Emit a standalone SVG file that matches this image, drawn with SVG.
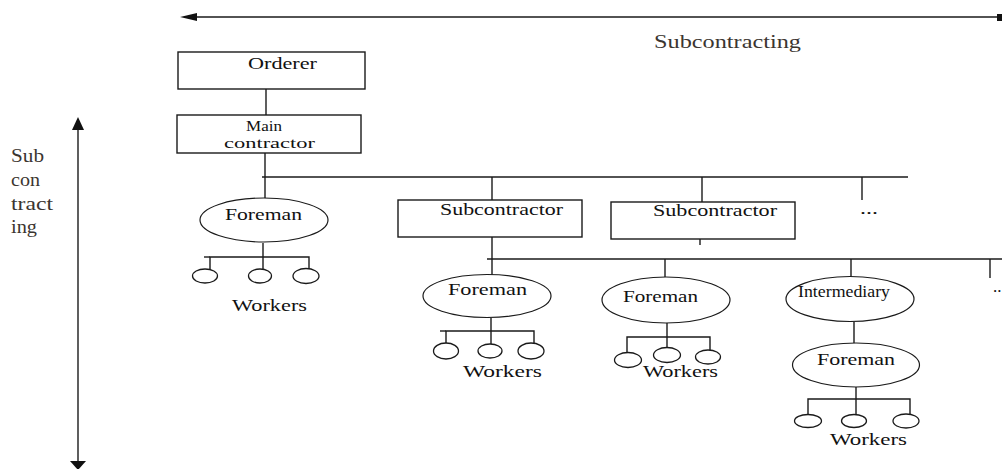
<svg xmlns="http://www.w3.org/2000/svg" width="1002" height="469" viewBox="0 0 1002 469">
<style>
.ln{stroke:#1a1a1a;stroke-width:1.4;fill:none}
.bx{stroke:#1a1a1a;stroke-width:1.4;fill:#fff}
.el{stroke:#1a1a1a;stroke-width:1.2;fill:#fff}
.wk{stroke:#1a1a1a;stroke-width:1.3;fill:#fff}
.hd{fill:#111;stroke:none}
.t{font-family:'Liberation Serif','DejaVu Serif',serif;font-size:17px;fill:#111}
.sm{font-size:15px}
.lb{fill:#3b3530;font-size:18px}
</style>
<rect width="1002" height="469" fill="#fff"/>
<g id="connectors">
<line class="ln" x1="190" y1="17" x2="998" y2="17"/>
<polygon class="hd" points="180,17 197,13 197,21"/>
<rect class="hd" x="997" y="14" width="5" height="7"/>
<line class="ln" x1="78" y1="126" x2="78" y2="462"/>
<polygon class="hd" points="78,117 72,130 84,130"/>
<polygon class="hd" points="70,461 86,461 78,470"/>
<line class="ln" x1="266" y1="89" x2="266" y2="115"/>
<line class="ln" x1="265" y1="153" x2="265" y2="199"/>
<line class="ln" x1="262" y1="177" x2="908" y2="177"/>
<line class="ln" x1="492" y1="177" x2="492" y2="200"/>
<line class="ln" x1="702" y1="177" x2="702" y2="202"/>
<line class="ln" x1="862" y1="177" x2="862" y2="200"/>
<line class="ln" x1="700" y1="239" x2="700" y2="245"/>
<line class="ln" x1="492" y1="237" x2="492" y2="275"/>
<line class="ln" x1="487" y1="259" x2="1002" y2="259"/>
<line class="ln" x1="665" y1="259" x2="665" y2="277"/>
<line class="ln" x1="851" y1="259" x2="851" y2="277"/>
<line class="ln" x1="990" y1="259" x2="990" y2="278"/>
<line class="ln" x1="854" y1="322" x2="854" y2="343"/>
<line class="ln" x1="263" y1="243" x2="263" y2="269"/>
<polyline class="ln" points="210,269 210,257 309,257 309,269"/>
<line class="ln" x1="204" y1="257" x2="210" y2="257"/>
<line class="ln" x1="491" y1="318" x2="491" y2="344"/>
<polyline class="ln" points="446,344 446,331 534,331 534,344"/>
<line class="ln" x1="440" y1="331" x2="446" y2="331"/>
<line class="ln" x1="667" y1="323" x2="667" y2="348"/>
<polyline class="ln" points="627,353 627,337 710,337 710,350"/>
<line class="ln" x1="856" y1="387" x2="856" y2="414"/>
<polyline class="ln" points="808,414 808,399 910,399 910,414"/>
</g>
<g id="orderer">
<rect class="bx" x="178" y="52" width="187" height="37"/>
<text class="t" x="248" y="69" textLength="69" lengthAdjust="spacingAndGlyphs">Orderer</text>
</g>
<g id="main-contractor">
<rect class="bx" x="177" y="115" width="184" height="38"/>
<text class="t sm" x="246" y="131" textLength="36" lengthAdjust="spacingAndGlyphs">Main</text>
<text class="t sm" x="224" y="148" textLength="91" lengthAdjust="spacingAndGlyphs">contractor</text>
</g>
<g id="foreman-1">
<ellipse class="el" cx="264" cy="220" rx="64" ry="22"/>
<text class="t" x="225" y="220" textLength="77" lengthAdjust="spacingAndGlyphs">Foreman</text>
</g>
<g id="workers-1">
<ellipse class="wk" cx="205" cy="276" rx="12.5" ry="7"/>
<ellipse class="wk" cx="260" cy="276" rx="11.5" ry="7"/>
<ellipse class="wk" cx="306" cy="276" rx="13" ry="7.5"/>
<text class="t" x="232" y="311" textLength="75" lengthAdjust="spacingAndGlyphs">Workers</text>
</g>
<g id="subcontractor-1">
<rect class="bx" x="398" y="200" width="184" height="37"/>
<text class="t" x="440" y="215" textLength="123" lengthAdjust="spacingAndGlyphs">Subcontractor</text>
</g>
<g id="subcontractor-2">
<rect class="bx" x="611" y="202" width="184" height="37"/>
<text class="t" x="653" y="216" textLength="124" lengthAdjust="spacingAndGlyphs">Subcontractor</text>
</g>
<g id="more-1">
<text class="t" x="860" y="214" textLength="18" lengthAdjust="spacingAndGlyphs">...</text>
</g>
<g id="foreman-2">
<ellipse class="el" cx="487" cy="296" rx="64" ry="21.5"/>
<text class="t" x="448" y="295" textLength="79" lengthAdjust="spacingAndGlyphs">Foreman</text>
</g>
<g id="workers-2">
<ellipse class="wk" cx="446" cy="351" rx="12.5" ry="8"/>
<ellipse class="wk" cx="490" cy="351" rx="12" ry="7"/>
<ellipse class="wk" cx="531" cy="351" rx="13" ry="8"/>
<text class="t" x="463" y="377" textLength="79" lengthAdjust="spacingAndGlyphs">Workers</text>
</g>
<g id="foreman-3">
<ellipse class="el" cx="666" cy="300" rx="64" ry="23"/>
<text class="t" x="623" y="302" textLength="75" lengthAdjust="spacingAndGlyphs">Foreman</text>
</g>
<g id="workers-3">
<ellipse class="wk" cx="628" cy="360" rx="13.5" ry="7.5"/>
<ellipse class="wk" cx="667" cy="355" rx="13.5" ry="7.5"/>
<ellipse class="wk" cx="708" cy="357" rx="12.5" ry="7"/>
<text class="t" x="643" y="377" textLength="75" lengthAdjust="spacingAndGlyphs">Workers</text>
</g>
<g id="intermediary">
<ellipse class="el" cx="850" cy="299" rx="64" ry="22.5"/>
<text class="t" x="798" y="297" textLength="92" lengthAdjust="spacingAndGlyphs">Intermediary</text>
</g>
<g id="foreman-4">
<ellipse class="el" cx="856" cy="365" rx="63.5" ry="22"/>
<text class="t" x="817" y="365" textLength="78" lengthAdjust="spacingAndGlyphs">Foreman</text>
</g>
<g id="workers-4">
<ellipse class="wk" cx="808" cy="421" rx="13.5" ry="6.5"/>
<ellipse class="wk" cx="854" cy="421" rx="12.5" ry="6.5"/>
<ellipse class="wk" cx="906" cy="421" rx="13" ry="7"/>
<text class="t" x="830" y="445" textLength="77" lengthAdjust="spacingAndGlyphs">Workers</text>
</g>
<g id="more-2">
<text class="t" x="993" y="292">..</text>
</g>
<g id="label-subcontracting-h">
<text class="t lb" x="654" y="48" textLength="147" lengthAdjust="spacingAndGlyphs">Subcontracting</text>
</g>
<g id="label-subcontracting-v">
<text class="t lb" x="11" y="162" textLength="33" lengthAdjust="spacingAndGlyphs">Sub</text>
<text class="t lb" x="11" y="186" textLength="29" lengthAdjust="spacingAndGlyphs">con</text>
<text class="t lb" x="11" y="210" textLength="42" lengthAdjust="spacingAndGlyphs">tract</text>
<text class="t lb" x="11" y="233" textLength="26" lengthAdjust="spacingAndGlyphs">ing</text>
</g>
</svg>
